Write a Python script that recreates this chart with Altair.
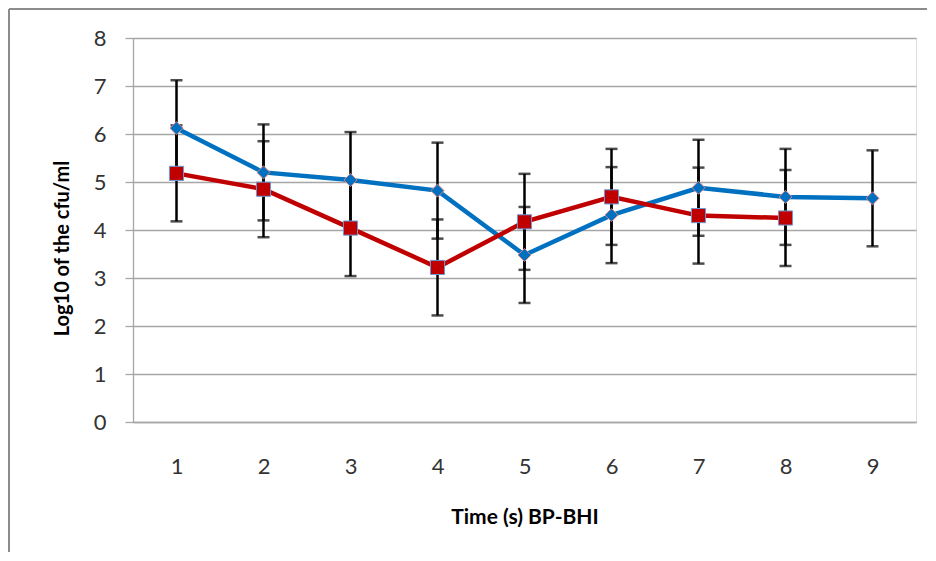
import altair as alt
import pandas as pd

# ---- data ----
times = [1, 2, 3, 4, 5, 6, 7, 8, 9]
blue_vals = [6.12, 5.20, 5.04, 4.82, 3.48, 4.31, 4.88, 4.69, 4.66]
blue_err = [1, 1, 1, 1, 1, 1, 1, 1, 1]
red_vals = [5.18, 4.85, 4.04, 3.22, 4.17, 4.69, 4.30, 4.25]
red_err = [1, 1, 1, 1, 1, 1, 1, 1]
series_names = ["Series 1", "Series 2"]
y_ticks = [0, 1, 2, 3, 4, 5, 6, 7, 8]

rows = []
for t, v, e in zip(times, blue_vals, blue_err):
    rows.append({"t": t, "v": v, "lo": v - e, "hi": v + e, "s": series_names[0]})
for t, v, e in zip(times, red_vals, red_err):
    rows.append({"t": t, "v": v, "lo": v - e, "hi": v + e, "s": series_names[1]})
df = pd.DataFrame(rows)

FONT = "Lato"
GRID = "#A6A6A6"

x_enc = alt.X(
    "t:Q",
    scale=alt.Scale(domain=[0.5, 9.5], nice=False, zero=False),
    axis=alt.Axis(
        values=times, format="d", title="Time (s) BP-BHI", grid=False, ticks=False, tickSize=0,
        domain=True, domainColor=GRID, domainWidth=1.3,
        labelFontSize=22, labelFont=FONT, labelColor="#333333",
        labelPadding=44, labelBaseline="middle",
        titleFontSize=21, titleFont=FONT, titleFontWeight="bold", titleColor="#000000",
        titleY=95, titleBaseline="middle",
    ),
)
y_enc = alt.Y(
    "v:Q",
    scale=alt.Scale(domain=[0, 8], nice=False),
    axis=alt.Axis(
        values=y_ticks, format="d", title="Log10 of the cfu/ml", grid=True, gridColor=GRID, gridWidth=1.3,
        ticks=True, tickSize=8, tickColor=GRID, tickWidth=1.3,
        domain=True, domainColor=GRID, domainWidth=1.3,
        labelFontSize=22, labelFont=FONT, labelColor="#333333", labelPadding=19,
        titleFontSize=20, titleFont=FONT, titleFontWeight="bold", titleColor="#000000",
        titleX=-71, titleY=210, titleAngle=270, titleAlign="center", titleBaseline="middle",
    ),
)

color_scale = alt.Scale(domain=series_names, range=["#0070C0", "#C00000"])

base = alt.Chart(df)

lines = base.mark_line(strokeWidth=4.5).encode(
    x=x_enc, y=y_enc,
    color=alt.Color("s:N", scale=color_scale, legend=None),
    detail="s:N",
)

bars = base.mark_rule(color="#000000", strokeWidth=2.5).encode(
    x="t:Q", y="lo:Q", y2="hi:Q"
)
caps_hi = base.mark_tick(color="#000000", orient="horizontal", size=12, thickness=2.5).encode(
    x="t:Q", y="hi:Q"
)
caps_lo = base.mark_tick(color="#000000", orient="horizontal", size=12, thickness=2.5).encode(
    x="t:Q", y="lo:Q"
)

points = base.mark_point(filled=True, opacity=1, strokeWidth=1).encode(
    x="t:Q", y="v:Q",
    shape=alt.Shape("s:N", scale=alt.Scale(domain=series_names, range=["diamond", "square"]), legend=None),
    size=alt.Size("s:N", scale=alt.Scale(domain=series_names, range=[170, 200]), legend=None),
    fill=alt.Fill("s:N", scale=color_scale, legend=None),
    stroke=alt.Stroke("s:N", scale=alt.Scale(domain=series_names, range=["#E08080", "#6A9AD8"]), legend=None),
)

frame_left = alt.Chart(df).mark_rule(color="#8C8C8C", strokeWidth=2).encode(
    x=alt.value(-124), y=alt.value(-29), y2=alt.value(514)
)
frame_top = alt.Chart(df).mark_rule(color="#8C8C8C", strokeWidth=2).encode(
    x=alt.value(-124), x2=alt.value(794), y=alt.value(-29)
)

chart = alt.layer(lines, bars, caps_hi, caps_lo, points, frame_left, frame_top).properties(
    width=783, height=384, padding=0
).configure_view(stroke=None).configure(background="white")

chart.save("out.html", embed_options={"renderer": "svg", "actions": False})
